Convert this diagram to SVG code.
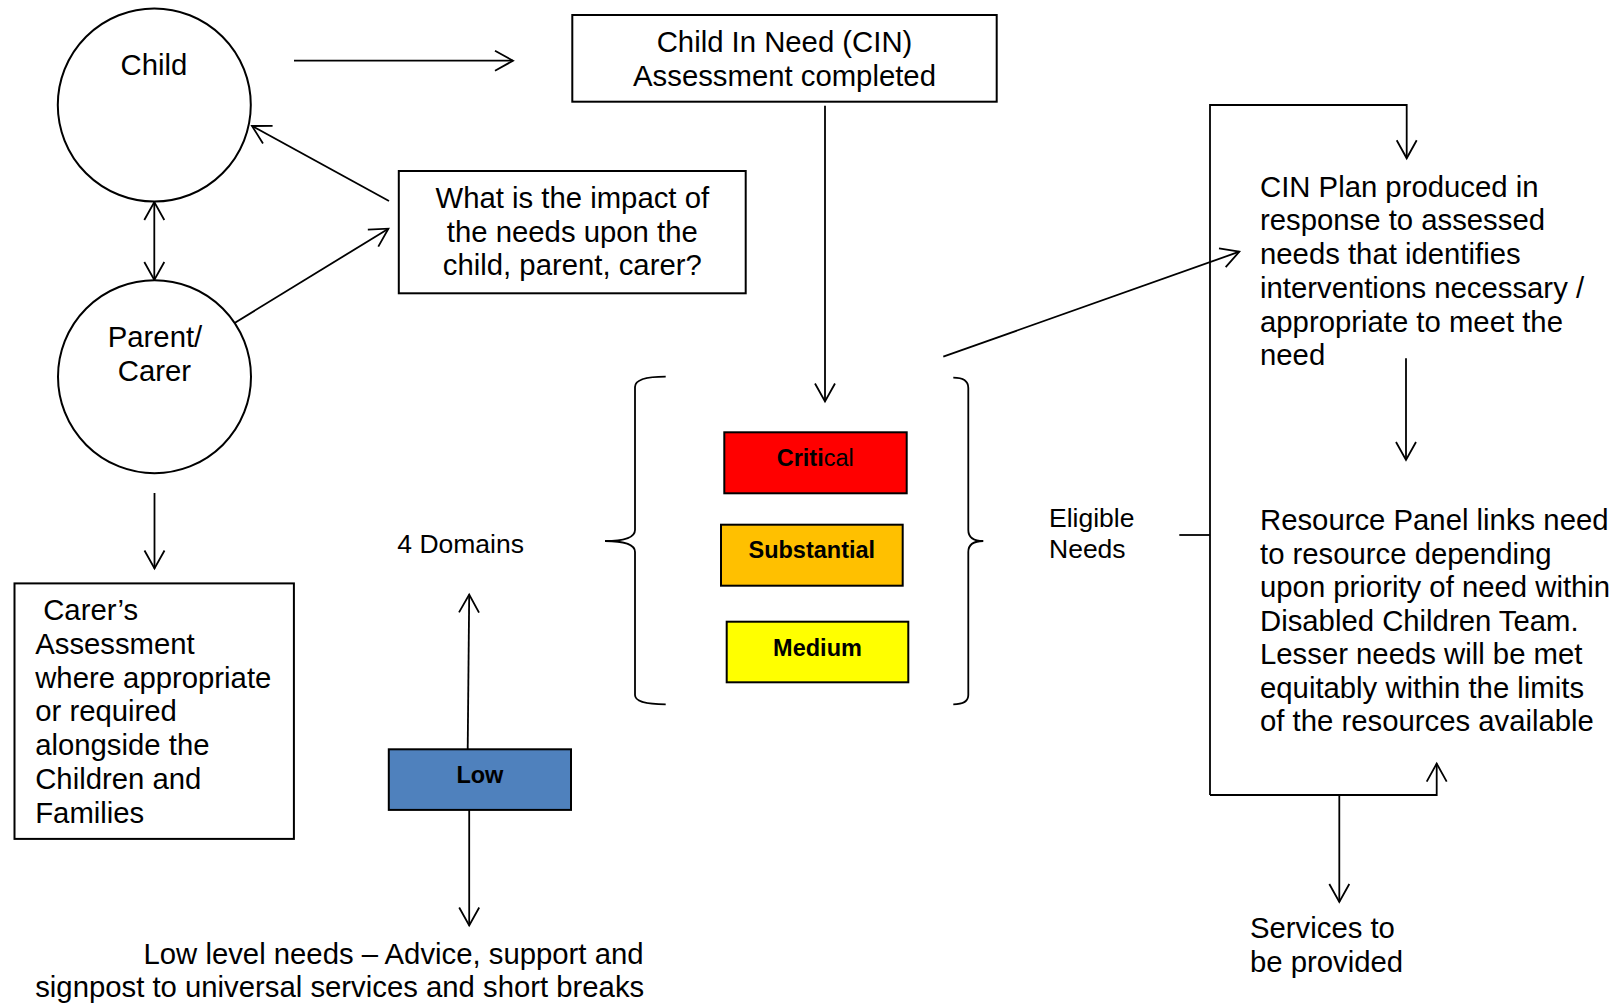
<svg xmlns="http://www.w3.org/2000/svg" width="1613" height="1004" viewBox="0 0 1613 1004">
<style>
  text { font-family: "Liberation Sans", Arial, sans-serif; font-size: 29.3px; fill: #000; }
  .small { font-size: 26.5px; }
  .lvl { font-size: 23.5px; font-weight: bold; }
  .mid { text-anchor: middle; }
  .shape { fill: #fff; stroke: #000; stroke-width: 2; }
  .conn { fill: none; stroke: #000; stroke-width: 1.8; }
  .arrow { marker-end: url(#ah); }
</style>
<defs>
  <marker id="ah" markerUnits="userSpaceOnUse" viewBox="-22 -13 26 26" refX="0" refY="0" markerWidth="26" markerHeight="26" orient="auto-start-reverse" overflow="visible">
    <path d="M-18,-10 L0,0 L-18,10" fill="none" stroke="#000" stroke-width="1.8"/>
  </marker>
</defs>
<rect width="1613" height="1004" fill="#fff"/>

<g id="connectors">
  <path class="conn arrow" d="M294,60.7 L513,60.7"/>
  <path class="conn arrow" d="M389,201 L252,126"/>
  <path class="conn arrow" d="M235,322.7 L388.4,228.7"/>
  <path class="conn arrow" style="marker-start:url(#ah)" d="M154.3,202 L154.3,280"/>
  <path class="conn arrow" d="M154.5,493 L154.5,568.5"/>
  <path class="conn arrow" d="M825,105.7 L825,401.5"/>
  <path class="conn arrow" d="M467.7,749 L469.2,594.5"/>
  <path class="conn arrow" d="M469.2,810 L469.2,925.5"/>
  <path class="conn arrow" d="M943.3,356.7 L1239.3,251.7"/>
  <path class="conn arrow" d="M1210,795 L1210,105 L1406.7,105 L1406.7,158.3"/>
  <path class="conn arrow" d="M1406,358.3 L1406,460"/>
  <path class="conn arrow" d="M1210,795 L1436.7,795 L1436.7,763.6"/>
  <path class="conn" d="M1179.3,535 L1210,535"/>
  <path class="conn arrow" d="M1339.3,795 L1339.3,902"/>
  <path class="conn" d="M665.7,376.7 Q635,376.7 635,387 L635,530 Q635,541 605,541 Q635,541 635,552 L635,695 Q635,704.3 665.7,704.3"/>
  <path class="conn" d="M953.3,377.7 Q968.3,377.7 968.3,388 L968.3,530 Q968.3,541 983.3,541 Q968.3,541 968.3,552 L968.3,695 Q968.3,704.3 953.3,704.3"/>
</g>

<g id="child">
  <circle class="shape" cx="154.3" cy="105" r="96.5"/>
  <text class="mid" x="154" y="75">Child</text>
</g>

<g id="parent">
  <circle class="shape" cx="154.5" cy="376.7" r="96.5"/>
  <text class="mid" x="155" y="347.3">Parent/</text>
  <text class="mid" x="154.5" y="380.7">Carer</text>
</g>

<g id="cin-assessment">
  <rect class="shape" x="572.3" y="15" width="424.4" height="86.7"/>
  <text class="mid" x="784.5" y="52">Child In Need (CIN)</text>
  <text class="mid" x="784.5" y="86">Assessment completed</text>
</g>

<g id="impact">
  <rect class="shape" x="398.8" y="171" width="346.9" height="122.3"/>
  <text class="mid" x="572.3" y="208.3">What is the impact of</text>
  <text class="mid" x="572.3" y="241.7">the needs upon the</text>
  <text class="mid" x="572.3" y="275">child, parent, carer?</text>
</g>

<g id="carers-assessment">
  <rect class="shape" x="14.5" y="583.4" width="279.4" height="255.5"/>
  <text x="43.2" y="620">Carer’s</text>
  <text x="35.2" y="653.8">Assessment</text>
  <text x="35.2" y="687.5">where appropriate</text>
  <text x="35.2" y="721.3">or required</text>
  <text x="35.2" y="755">alongside the</text>
  <text x="35.2" y="788.8">Children and</text>
  <text x="35.2" y="822.5">Families</text>
</g>

<g id="domains">
  <text class="small" x="397.3" y="552.7">4 Domains</text>
</g>

<g id="critical">
  <rect x="724.3" y="432.3" width="182.4" height="61" fill="#FF0000" stroke="#000" stroke-width="2"/>
  <text class="lvl" x="776.7" y="466">Criti<tspan font-weight="normal">cal</tspan></text>
</g>

<g id="substantial">
  <rect x="721" y="524.7" width="181.7" height="61" fill="#FFC000" stroke="#000" stroke-width="2"/>
  <text class="lvl mid" x="811.8" y="558.3">Substantial</text>
</g>

<g id="medium">
  <rect x="726.7" y="621.7" width="181.6" height="60.6" fill="#FFFF00" stroke="#000" stroke-width="2"/>
  <text class="lvl mid" x="817.5" y="655.7">Medium</text>
</g>

<g id="low">
  <rect x="388.8" y="749.3" width="182.2" height="60.6" fill="#4F81BD" stroke="#000" stroke-width="2"/>
  <text class="lvl mid" x="479.9" y="782.7">Low</text>
</g>

<g id="low-level-needs">
  <text x="143.5" y="964">Low level needs – Advice, support and</text>
  <text x="35.2" y="997.2">signpost to universal services and short breaks</text>
</g>

<g id="eligible-needs">
  <text class="small" x="1049" y="526.7">Eligible</text>
  <text class="small" x="1049" y="557.7">Needs</text>
</g>

<g id="cin-plan">
  <text x="1260" y="196.7">CIN Plan produced in</text>
  <text x="1260" y="230.4">response to assessed</text>
  <text x="1260" y="264.1">needs that identifies</text>
  <text x="1260" y="297.8">interventions necessary /</text>
  <text x="1260" y="331.5">appropriate to meet the</text>
  <text x="1260" y="365.2">need</text>
</g>

<g id="resource-panel">
  <text x="1260" y="530.2">Resource Panel links need</text>
  <text x="1260" y="563.7">to resource depending</text>
  <text x="1260" y="597.2">upon priority of need within</text>
  <text x="1260" y="630.7">Disabled Children Team.</text>
  <text x="1260" y="664.2">Lesser needs will be met</text>
  <text x="1260" y="697.7">equitably within the limits</text>
  <text x="1260" y="731.2">of the resources available</text>
</g>

<g id="services">
  <text x="1250" y="938.2">Services to</text>
  <text x="1250" y="971.6">be provided</text>
</g>
</svg>
